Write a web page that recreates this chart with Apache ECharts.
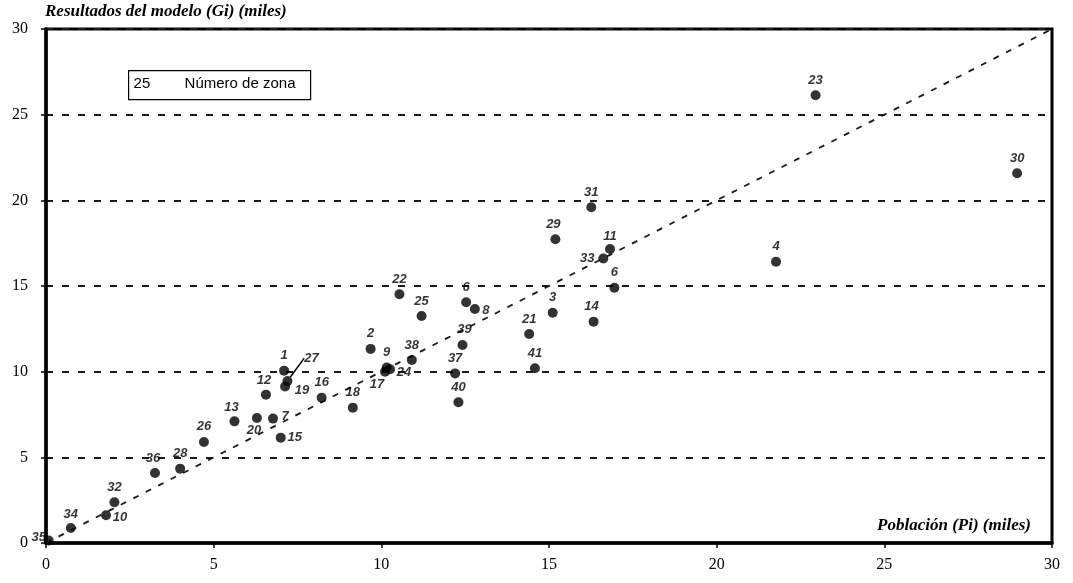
<!DOCTYPE html>
<html>
<head>
<meta charset="utf-8">
<script src="https://cdn.jsdelivr.net/npm/echarts@6/dist/echarts.min.js"></script>
<style>
  html, body { margin: 0; padding: 0; background: #fff; }
  #chart { width: 1073px; height: 583px; }
</style>
</head>
<body>
<div id="chart"></div>
<script>
// Zone numbers, population (thousands) and model result (thousands)
const zones = ['1','2','3','4','6','6','7','8','9','10','11','12','13','14','15','16','17','18','19','20',
               '21','22','23','24','25','26','27','28','29','30','31','32','33','34','35','36','37','38','39','40','41'];
const poblacion = [7.10, 9.68, 15.11, 21.77, 12.53, 16.95, 6.77, 12.79, 10.16, 1.79, 16.82, 6.56, 5.62, 16.33, 7.00, 8.22, 10.11, 9.15, 7.13, 6.29,
                   14.41, 10.54, 22.95, 10.26, 11.20, 4.71, 7.20, 4.00, 15.19, 28.96, 16.26, 2.04, 16.62, 0.74, 0.08, 3.25, 12.20, 10.91, 12.42, 12.30, 14.58];
const resultados = [10.06, 11.33, 13.44, 16.42, 14.05, 14.90, 7.26, 13.66, 10.24, 1.62, 17.16, 8.66, 7.10, 12.92, 6.15, 8.48, 10.00, 7.90, 9.13, 7.30,
                    12.20, 14.52, 26.13, 10.14, 13.25, 5.90, 9.45, 4.34, 17.73, 21.58, 19.60, 2.38, 16.60, 0.88, 0.15, 4.09, 9.90, 10.68, 11.56, 8.21, 10.20];
const ticks = [0, 5, 10, 15, 20, 25, 30];
const identityLine = [[0, 0], [30, 30]];

// label placement around each dot (px); default sits above the dot
const defaultOffset = [0, -15];
const labelOffsets = {
  '10': [14, 2], '20': [-3, 12], '7': [12, -2], '15': [14, 0], '19': [17, 4],
  '17': [-8, 13], '24': [14, 3], '8': [11, 1], '33': [-16, 0], '35': [-10, -3],
  '27': [24, -23], '11': [0, -13], '39': [2, -16], '13': [-3, -14], '29': [-2, -15],
  '14': [-2, -15], '36': [-2, -15], '34': [0, -14], '12': [-2, -14]
};
const withGuide = { '27': true };

const points = zones.map((z, i) => {
  const item = { name: z, value: [poblacion[i], resultados[i]] };
  if (withGuide[z]) {
    item.labelLine = { show: true, lineStyle: { color: '#000', width: 1.5 } };
  }
  return item;
});

const serifBold = { fontFamily: 'Liberation Serif', fontWeight: 'bold', fontStyle: 'italic', fontSize: 17, fill: '#000' };

const chart = echarts.init(document.getElementById('chart'), null, { renderer: 'canvas' });
chart.setOption({
  animation: false,
  backgroundColor: '#fff',
  grid: { left: 46, right: 21, top: 29, bottom: 40, show: true, borderColor: '#000', borderWidth: 3 },
  xAxis: {
    type: 'value', min: ticks[0], max: ticks[ticks.length - 1], interval: 5,
    axisLine: { show: true, onZero: false, lineStyle: { color: '#000', width: 3.5 } },
    axisTick: { show: true, inside: false, length: 5, lineStyle: { color: '#000', width: 1.5 } },
    axisLabel: { margin: 14, fontFamily: 'Liberation Serif', fontSize: 16, color: '#000' },
    splitLine: { show: false }
  },
  yAxis: {
    type: 'value', min: ticks[0], max: ticks[ticks.length - 1], interval: 5,
    axisLine: { show: true, onZero: false, lineStyle: { color: '#000', width: 3.5 } },
    axisTick: { show: true, inside: false, length: 5, lineStyle: { color: '#000', width: 1.5 } },
    axisLabel: { margin: 18, fontFamily: 'Liberation Serif', fontSize: 16, color: '#000' },
    splitLine: { show: true, lineStyle: { color: '#1a1a1a', width: 2, type: [7, 9] } }
  },
  series: [
    {
      type: 'line',
      data: identityLine,
      symbol: 'none',
      silent: true,
      lineStyle: { color: '#1a1a1a', width: 1.8, type: [6, 8] },
      z: 1
    },
    {
      type: 'scatter',
      data: points,
      symbol: 'circle',
      symbolSize: 10,
      itemStyle: { color: '#000' },
      label: {
        show: true,
        position: 'inside',
        formatter: p => p.name,
        fontFamily: 'Liberation Sans',
        fontWeight: 'bold',
        fontStyle: 'italic',
        fontSize: 13,
        color: '#000',
        align: 'center',
        verticalAlign: 'middle'
      },
      labelLayout: params => {
        const o = labelOffsets[zones[params.dataIndex]] || defaultOffset;
        return { dx: o[0], dy: o[1], hideOverlap: false };
      },
      z: 3
    }
  ],
  graphic: [
    { type: 'text', left: 45, top: 3, style: Object.assign({ text: 'Resultados del modelo (Gi) (miles)' }, serifBold) },
    { type: 'text', right: 42, top: 517, style: Object.assign({ text: 'Población (Pi) (miles)' }, serifBold) },
    {
      type: 'group', left: 128, top: 70,
      children: [
        { type: 'rect', shape: { x: 0, y: 0, width: 182, height: 29 }, style: { fill: '#fff', stroke: '#000', lineWidth: 1.2 } },
        { type: 'text', x: 5, y: 6, style: { text: '25', fontFamily: 'Liberation Sans', fontSize: 15, fill: '#000' } },
        { type: 'text', x: 56, y: 6, style: { text: 'Número de zona', fontFamily: 'Liberation Sans', fontSize: 15, fill: '#000' } }
      ]
    }
  ]
});
</script>
</body>
</html>
